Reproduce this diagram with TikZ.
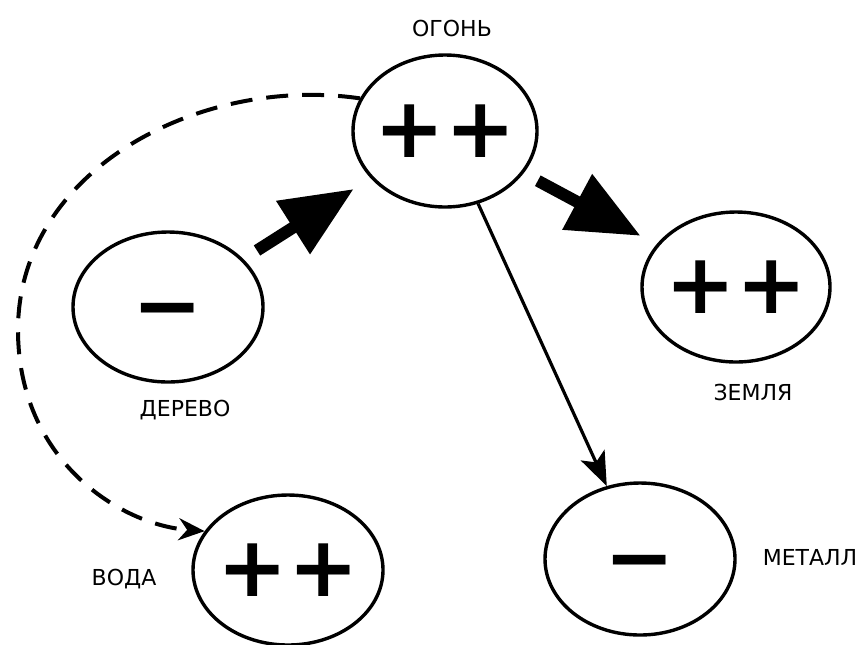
\documentclass[tikz,border=0pt]{standalone}
\usepackage{fontspec}
\setmainfont{DejaVu Sans}
\usetikzlibrary{shapes.geometric,arrows.meta}
\tikzset{
    elem/.style={ellipse, draw, line width=1.7pt, inner sep=0pt},
    sign/.style={inner sep=0pt, font=\bfseries\fontsize{42}{42}\selectfont},
    minussign/.style={sign, yshift=-6pt},
    lbl/.style={inner sep=1pt, font=\fontsize{11}{13}\selectfont},
    bigarrow/.style={line width=6pt, -{Triangle[length=36pt,width=30pt]}},
    thinarrow/.style={line width=1.6pt, -{Stealth[length=17pt,width=13pt,inset=4pt]}},
    dasharrow/.style={line width=2pt, dash pattern=on 11pt off 7pt, -{Stealth[length=13pt,width=11pt]}}
}
\begin{document}
\begin{tikzpicture}[x=0.5pt, y=-0.5pt]
    \useasboundingbox (0,0) rectangle (860,644);

    \node[elem, minimum width=92pt, minimum height=76pt] (fire) at (445,131) {};
    \node[elem, minimum width=95pt, minimum height=75pt] (wood) at (168,307) {};
    \node[elem, minimum width=94pt, minimum height=75pt] (earth) at (736,287) {};
    \node[elem, minimum width=95pt, minimum height=76pt] (metal) at (640,559) {};
    \node[elem, minimum width=95pt, minimum height=75pt] (water) at (288,570) {};

    \node[sign] (firesign) at (fire.center) {++};
    \node[minussign] (woodsign) at (wood.center) {−};
    \node[sign] (earthsign) at (earth.center) {++};
    \node[minussign] (metalsign) at (metal.center) {−};
    \node[sign] (watersign) at (water.center) {++};

    \node[lbl] (firelbl) at (452,28) {ОГОНЬ};
    \node[lbl] (woodlbl) at (185,410) {ДЕРЕВО};
    \node[lbl] (earthlbl) at (753,392) {ЗЕМЛЯ};
    \node[lbl] (metallbl) at (810,557) {МЕТАЛЛ};
    \node[lbl] (waterlbl) at (124,579) {ВОДА};

    \draw[bigarrow, shorten <=8pt, shorten >=10pt] (wood) -- (fire);
    \draw[bigarrow, shorten <=8pt, shorten >=9pt] (fire) -- (earth);
    \draw[thinarrow] (fire) -- (metal);
    \draw[dasharrow] (fire.159) .. controls (200,75) and (18,170) .. (18,330)
        .. controls (18,460) and (120,525) .. (water.155);
\end{tikzpicture}
\end{document}
